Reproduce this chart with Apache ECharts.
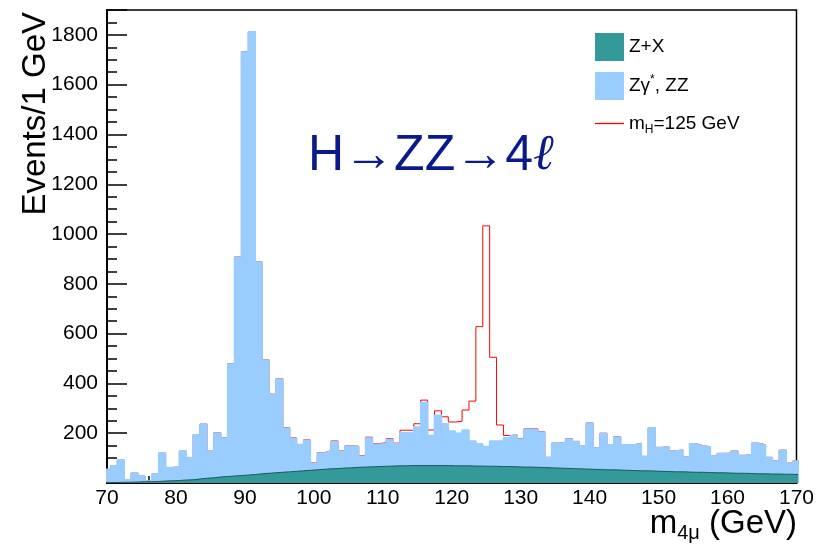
<!DOCTYPE html>
<html><head><meta charset="utf-8">
<script src="https://cdn.jsdelivr.net/npm/echarts@6/dist/echarts.min.js"></script>
<style>html,body{margin:0;padding:0;background:#fff}#c{width:817px;height:549px}</style>
</head><body><div id="c"></div>
<script>
// bin centres (1 GeV bins, edges at half-integers)
const binCenters = [70,71,72,73,74,75,76,77,78,79,80,81,82,83,84,85,86,87,88,89,
90,91,92,93,94,95,96,97,98,99,100,101,102,103,104,105,106,107,108,109,
110,111,112,113,114,115,116,117,118,119,120,121,122,123,124,125,126,127,128,129,
130,131,132,133,134,135,136,137,138,139,140,141,142,143,144,145,146,147,148,149,
150,151,152,153,154,155,156,157,158,159,160,161,162,163,164,165,166,167,168,169,170];

// Z+X background
const zxValues = [2,2,3,3,4,5,5,6,8,9,10,12,13,16,19,21,24,26,28,30,
32,34,37,39,41,43,45,47,49,51,53,55,57,58,60,61,63,64,65,66,
67,68,69,69,70,70,70,70,70,70,69,69,69,68,68,67,67,66,66,65,
64,64,63,62,61,60,59,58,57,56,55,54,53,53,52,51,50,49,49,48,
47,46,45,45,44,43,43,42,41,41,40,39,39,38,37,37,36,36,35,35,34];

// Zgamma*, ZZ stacked on top of Z+X (top of the light-blue histogram)
const zzStacked = [55,68,92,13,40,28,8,36,120,62,66,128,102,194,237,127,201,181,478,907,
1731,1812,887,494,356,418,221,179,153,171,79,120,128,167,127,147,146,106,181,155,
159,175,157,202,201,225,323,191,272,238,209,200,213,169,157,146,169,169,182,191,
177,217,215,205,102,159,163,177,166,149,240,140,199,153,185,153,153,159,106,222,
142,146,128,132,104,157,149,144,107,118,119,128,110,114,159,153,102,88,131,79,88];

// Higgs signal mH = 125 GeV (added on top)
const higgsSignal = [0,0,0,0,0,0,0,0,0,0,0,0,0,0,0,1,1,1,1,1,
1,1,1,1,1,1,2,2,2,2,2,2,2,2,2,2,2,3,3,3,
3,3,3,10,11,13,10,22,18,28,36,48,80,160,471,887,336,64,9,2,
2,2,2,2,1,1,1,1,1,1,1,1,1,1,1,1,1,1,1,1,
1,1,1,1,1,1,1,1,1,1,1,1,1,1,1,1,1,1,1,1,1];

const yTickLabels = ['200','400','600','800','1000','1200','1400','1600','1800'];

const FONT = '"Liberation Sans", Arial, Helvetica, sans-serif';

function stepData(vals){
  const d = vals.map((v,i)=>[binCenters[i]-0.5, v]);
  d.push([binCenters[binCenters.length-1]+0.5, vals[vals.length-1]]);
  return d;
}
const redTotal = zzStacked.map((v,i)=>v+higgsSignal[i]);

const chart = echarts.init(document.getElementById('c'));
const tickStyle = {color:'#000', width:1.5};
const legendRich = {n:{fontSize:19,lineHeight:24,fontFamily:FONT,color:'#000'},
            sub:{fontSize:12,lineHeight:8,verticalAlign:'bottom',fontFamily:FONT,color:'#000'},
            sup:{fontSize:12,lineHeight:8,verticalAlign:'top',fontFamily:FONT,color:'#000'}};
function legendFmt(n){
  if(n==='Z+X') return '{n|Z+X}';
  if(n==='Zγ*, ZZ') return '{n|Zγ}{sup|*}{n|, ZZ}';
  return '{n|m}{sub|H}{n|=125 GeV}';
}
chart.setOption({
  animation:false,
  grid:{left:107,right:20,top:10,bottom:66,show:true,borderColor:'#000',borderWidth:1.5},
  xAxis:{type:'value',min:70,max:170,interval:10,
    axisLine:{show:true,onZero:false,lineStyle:{color:'#000',width:2}},
    axisTick:{inside:true,length:14,lineStyle:tickStyle},
    minorTick:{show:true,splitNumber:5,length:7,lineStyle:tickStyle},
    axisLabel:{color:'#000',fontSize:21,fontFamily:FONT,margin:5},
    splitLine:{show:false},minorSplitLine:{show:false}},
  yAxis:[
    {type:'value',min:0,max:1900,interval:200,
     axisLine:{show:true,lineStyle:{color:'#000',width:2}},
     axisTick:{inside:true,length:20,lineStyle:tickStyle},
     axisLabel:{color:'#000',fontSize:21,fontFamily:FONT,margin:9,
       formatter:v=> yTickLabels.indexOf(String(v))>=0 ? String(v) : ''},
     splitLine:{show:false}},
    {type:'value',min:0,max:1900,interval:50,position:'left',
     axisLine:{show:false},
     axisTick:{inside:true,length:10,lineStyle:tickStyle},
     axisLabel:{show:false},splitLine:{show:false}}
  ],
  legend:[{
    left:590,top:28,orient:'vertical',itemWidth:29,itemHeight:28,itemGap:11,
    selectedMode:false,
    itemStyle:{borderWidth:0},
    data:[{name:'Z+X',icon:'rect'},{name:'Zγ*, ZZ',icon:'rect'}],
    formatter:legendFmt,
    textStyle:{color:'#000',fontFamily:FONT,fontSize:19,rich:legendRich}
  },{
    left:590,top:109,orient:'vertical',itemWidth:29,itemHeight:1.3,
    selectedMode:false,
    itemStyle:{borderWidth:0},
    data:[{name:'mH=125 GeV',icon:'rect'}],
    formatter:legendFmt,
    textStyle:{color:'#000',fontFamily:FONT,fontSize:19,rich:legendRich}
  }],
  series:[
    {name:'mH=125 GeV',type:'line',step:'end',data:stepData(redTotal),symbol:'none',
     itemStyle:{color:'#ff0000'},lineStyle:{color:'#ff0000',width:1},z:2,silent:true},
    {name:'Zγ*, ZZ',type:'line',step:'end',data:stepData(zzStacked),symbol:'none',
     itemStyle:{color:'#99ccff'},lineStyle:{color:'#99ccff',width:1.6},
     areaStyle:{color:'#99ccff',opacity:1},z:3,silent:true},
    {name:'Z+X',type:'line',step:'end',data:stepData(zxValues),symbol:'none',
     itemStyle:{color:'#339999'},lineStyle:{color:'#1d5a5a',width:1},
     areaStyle:{color:'#339999',opacity:1},z:4,silent:true}
  ],
  graphic:[
    {type:'text',left:308,top:131,z:10,
     style:{text:'{a|H→ZZ→4}{b|ℓ}',fill:'#0a1a8c',fontSize:50,fontFamily:FONT,
       rich:{a:{fontSize:50,fontFamily:FONT,fill:'#0a1a8c',color:'#0a1a8c'},
             b:{fontSize:50,fontStyle:'italic',fontFamily:'"DejaVu Serif", serif',fill:'#0a1a8c',color:'#0a1a8c'}}}},
    {type:'text',x:36,y:12,rotation:Math.PI/2,z:10,
     style:{text:'Events/1 GeV',fill:'#000',fontSize:33,fontFamily:FONT,align:'right',verticalAlign:'middle'}},
    {type:'text',right:20,top:507,z:10,
     style:{text:'{a|m}{s|4μ}{a| (GeV)}',
       rich:{a:{fontSize:33,lineHeight:40,fontFamily:FONT,fill:'#000',color:'#000'},
             s:{fontSize:20,lineHeight:6,verticalAlign:'bottom',fontFamily:FONT,fill:'#000',color:'#000'}}}}
  ]
});
</script>
</body></html>
